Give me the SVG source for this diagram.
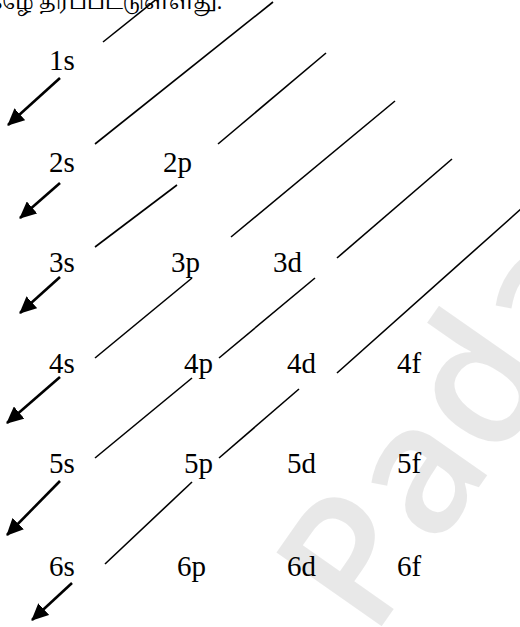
<svg xmlns="http://www.w3.org/2000/svg" width="520" height="627" viewBox="0 0 520 627">
  <style>
    .lbl { font-family: "Liberation Serif", "Times New Roman", serif; font-size: 29px; fill: #000; }
    .ln { stroke: #000; stroke-width: 1.6; fill: none; }
    .ar { stroke: #000; stroke-width: 2.6; fill: none; }
    .top { font-family: "Noto Serif Tamil", "Noto Sans Tamil", "Lohit Tamil", "Noto Sans", sans-serif; font-size: 20px; fill: #000; }
    .wm { font-family: "Open Sans", "DejaVu Sans", sans-serif; font-size: 180px; font-weight: 600; fill: #000; fill-opacity: 0.09; }
  </style>
  <defs>
    <marker id="head" markerUnits="userSpaceOnUse" markerWidth="20" markerHeight="16" refX="16" refY="8" orient="auto">
      <path d="M0,0 L17,8 L0,16 Z" fill="#000"/>
    </marker>
  </defs>
  <rect width="520" height="627" fill="#fff"/>

  <text class="wm" transform="translate(372,640) rotate(-55)">Pada</text>

  <text class="top" x="222" y="9" text-anchor="end">கீழே தரப்பட்டுள்ளது.</text>

  <g id="connectors">
    <line class="ln" x1="103" y1="42" x2="158" y2="-2"/>
    <line class="ln" x1="95" y1="144" x2="273" y2="2"/>
    <line class="ln" x1="218" y1="144" x2="326" y2="53"/>
    <line class="ln" x1="95" y1="247" x2="177" y2="185"/>
    <line class="ln" x1="231" y1="237" x2="395" y2="101"/>
    <line class="ln" x1="337" y1="258" x2="452" y2="159"/>
    <line class="ln" x1="95" y1="358" x2="192" y2="278"/>
    <line class="ln" x1="219" y1="358" x2="315" y2="278"/>
    <line class="ln" x1="337" y1="373" x2="522" y2="208"/>
    <line class="ln" x1="95" y1="458" x2="192" y2="378"/>
    <line class="ln" x1="219" y1="458" x2="299" y2="389"/>
    <line class="ln" x1="105" y1="564" x2="192" y2="482"/>
    <line class="ar" x1="60" y1="78" x2="8" y2="125" marker-end="url(#head)"/>
    <line class="ar" x1="60" y1="183" x2="20" y2="218" marker-end="url(#head)"/>
    <line class="ar" x1="60" y1="277" x2="20" y2="313" marker-end="url(#head)"/>
    <line class="ar" x1="60" y1="377" x2="7" y2="423" marker-end="url(#head)"/>
    <line class="ar" x1="60" y1="481" x2="7" y2="535" marker-end="url(#head)"/>
    <line class="ar" x1="72" y1="583" x2="32" y2="620" marker-end="url(#head)"/>
  </g>

  <g id="n1s"><text class="lbl" x="49" y="70">1s</text></g>
  <g id="n2s"><text class="lbl" x="49" y="172">2s</text></g>
  <g id="n2p"><text class="lbl" x="163" y="172">2p</text></g>
  <g id="n3s"><text class="lbl" x="49" y="272">3s</text></g>
  <g id="n3p"><text class="lbl" x="171" y="272">3p</text></g>
  <g id="n3d"><text class="lbl" x="273" y="272">3d</text></g>
  <g id="n4s"><text class="lbl" x="49" y="373">4s</text></g>
  <g id="n4p"><text class="lbl" x="184" y="373">4p</text></g>
  <g id="n4d"><text class="lbl" x="287" y="373">4d</text></g>
  <g id="n4f"><text class="lbl" x="397" y="373">4f</text></g>
  <g id="n5s"><text class="lbl" x="49" y="473">5s</text></g>
  <g id="n5p"><text class="lbl" x="184" y="473">5p</text></g>
  <g id="n5d"><text class="lbl" x="287" y="473">5d</text></g>
  <g id="n5f"><text class="lbl" x="397" y="473">5f</text></g>
  <g id="n6s"><text class="lbl" x="49" y="576">6s</text></g>
  <g id="n6p"><text class="lbl" x="177" y="576">6p</text></g>
  <g id="n6d"><text class="lbl" x="287" y="576">6d</text></g>
  <g id="n6f"><text class="lbl" x="397" y="576">6f</text></g>
</svg>
